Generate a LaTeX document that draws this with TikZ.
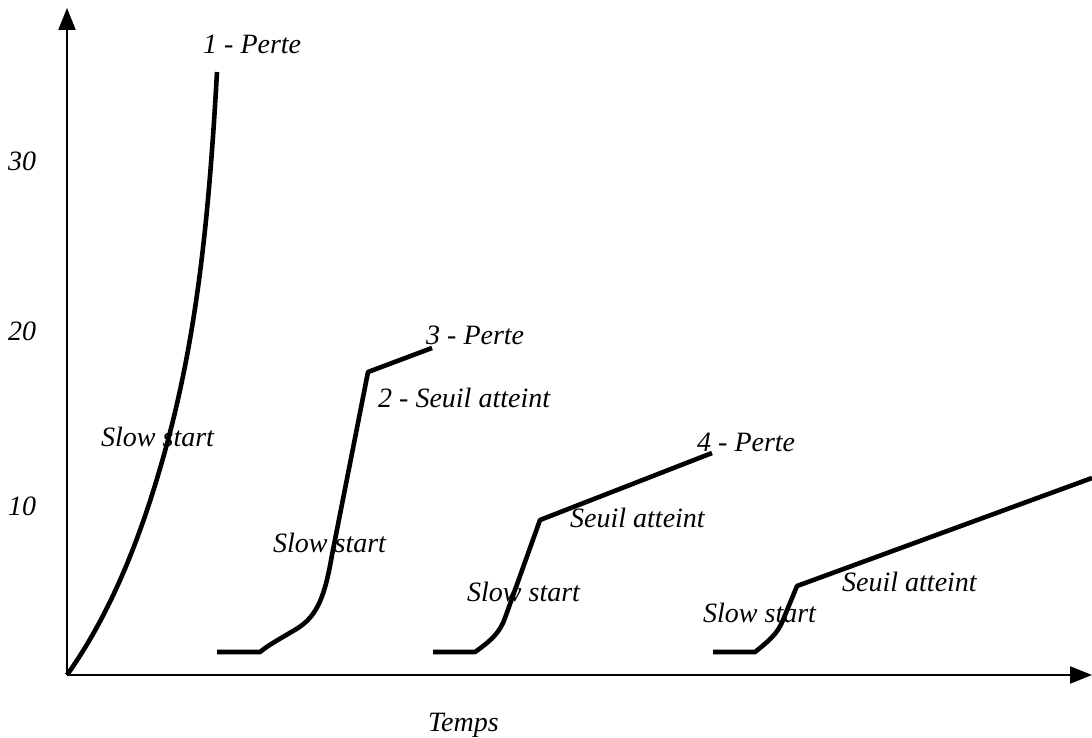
\documentclass[tikz,border=0pt]{standalone}
\usepackage{fontspec}
\setmainfont{Liberation Serif}
\usetikzlibrary{arrows.meta}
\begin{document}
\begin{tikzpicture}[x=1pt,y=-1pt,
  axis/.style={line width=2.4pt,-{Triangle[length=22pt,width=17pt]}},
  curve/.style={line width=4.6pt,line join=round},
  lbl/.style={font=\fontsize{28}{32}\selectfont\itshape,inner sep=0pt,anchor=base west}]
\useasboundingbox (0,0) rectangle (1092,738);
\coordinate (O) at (67,675);
\coordinate (ytop) at (67,8);
\coordinate (xend) at (1092,675);
\draw[axis] (O) -- (ytop);
\draw[axis] (O) -- (xend);
% curve 1
\draw[curve] (67,675) .. controls (116,606) and (146,522) .. (168,440)
  .. controls (200,320) and (210,196) .. (217,72);
% curve 2
\draw[curve] (217,652) -- (260,652) .. controls (268,645) and (285,636) .. (298,628)
  .. controls (318,615) and (325,595) .. (332,555) -- (368,372) -- (432,348);
% curve 3
\draw[curve] (433,652) -- (475,652) .. controls (492,640) and (500,632) .. (505,618) -- (540,520) -- (712,453);
% curve 4
\draw[curve] (713,652) -- (755,652) .. controls (770,640) and (778,633) .. (783,620) -- (797,586) -- (1092,478);
% labels
\node[lbl] (l30) at (8,171) {30};
\node[lbl] (l20) at (8,340) {20};
\node[lbl] (l10) at (8,515) {10};
\node[lbl] (p1) at (203,54) {1 - Perte};
\node[lbl] (ss1) at (101,446) {Slow start};
\node[lbl] (p3) at (426,344) {3 - Perte};
\node[lbl] (s2) at (378,407) {2 - Seuil atteint};
\node[lbl] (ss2) at (273,552) {Slow start};
\node[lbl] (p4) at (697,451) {4 - Perte};
\node[lbl] (s3) at (570,527) {Seuil atteint};
\node[lbl] (ss3) at (467,601) {Slow start};
\node[lbl] (ss4) at (703,622) {Slow start};
\node[lbl] (s4) at (842,591) {Seuil atteint};
\node[lbl] (temps) at (428,731) {Temps};
\end{tikzpicture}
\end{document}
